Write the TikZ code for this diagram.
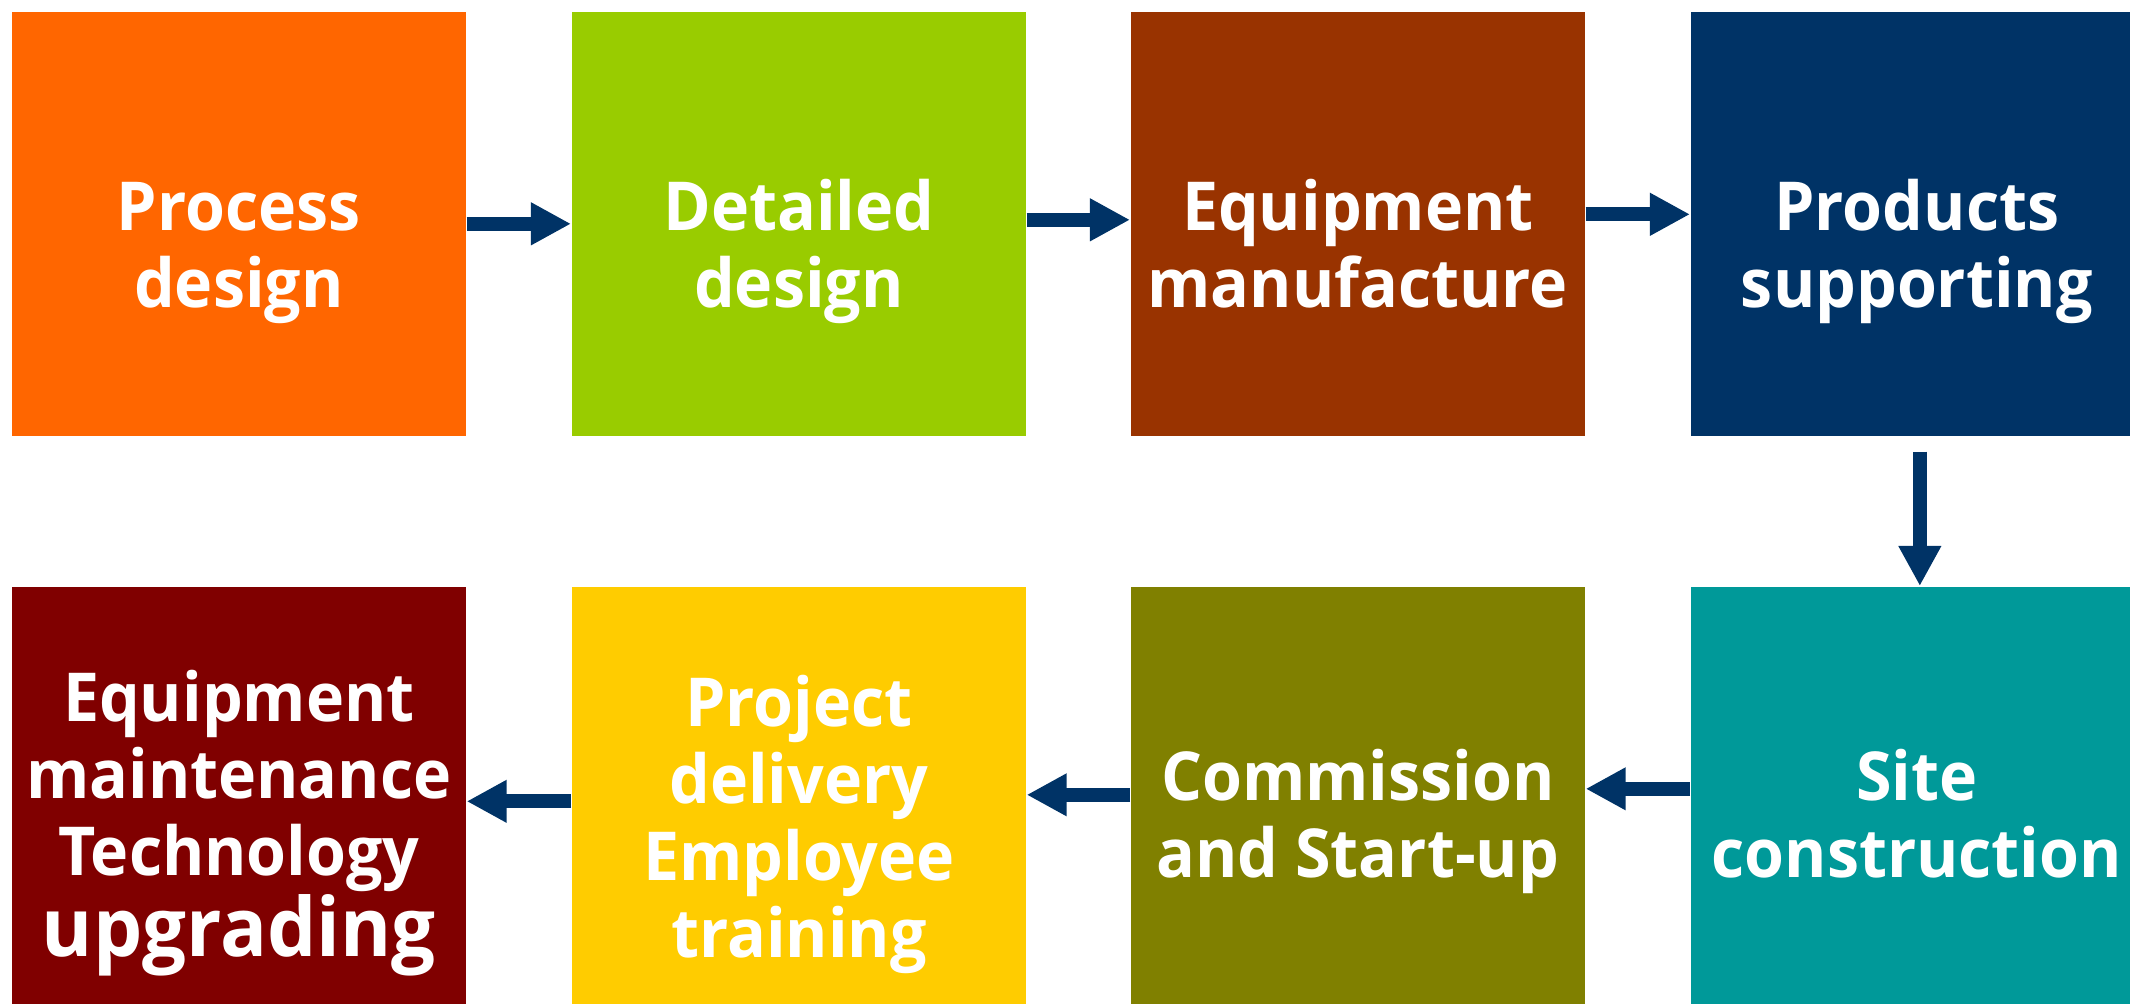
\documentclass[tikz,border=0pt]{standalone}
\usepackage{fontspec}
\setmainfont{Open Sans}[FakeStretch=0.955]
\usetikzlibrary{arrows.meta}

\definecolor{cOrange}{HTML}{FF6600}
\definecolor{cLime}{HTML}{99CC00}
\definecolor{cRust}{HTML}{993300}
\definecolor{cNavy}{HTML}{003366}
\definecolor{cTeal}{HTML}{009999}
\definecolor{cOlive}{HTML}{808000}
\definecolor{cGold}{HTML}{FFCC00}
\definecolor{cMaroon}{HTML}{800000}

\newcommand{\stagefont}{\fontsize{19.2}{21.9}\selectfont\bfseries}

\tikzset{
  stage/.style={rectangle, inner sep=0, anchor=north west,
    minimum width=4.54cm, minimum height=4.24cm},
  stagetext/.style={text=white, font=\stagefont, align=center,
    anchor=base, inner sep=0},
  flow/.style={cNavy, line width=0.14cm,
    -{Triangle[length=0.4cm, width=0.4cm]}}
}

\begin{document}
\begin{tikzpicture}[x=0.01cm, y=-0.01cm]
\useasboundingbox (0,0) rectangle (2130,1004);
% top row
\node[stage, fill=cOrange] (pd) at (11,11) {};
\node[stage, fill=cLime] (dd) at (571,11) {};
\node[stage, fill=cRust] (em) at (1130,11) {};
\node[stage, fill=cNavy, minimum width=4.4cm] (ps) at (1690,11) {};
% bottom row
\begin{scope}[every node/.append style={minimum height=4.18cm}]
\node[stage, fill=cMaroon] (mt) at (11,586) {};
\node[stage, fill=cGold] (pj) at (571,586) {};
\node[stage, fill=cOlive] (cs) at (1130,586) {};
\node[stage, fill=cTeal, minimum width=4.4cm] (sc) at (1690,586) {};
\end{scope}

% texts, placed on the baseline of their last line
\node[stagetext] (pd-t) at (pd |- 0,308) {Process\\design};
\node[stagetext] (dd-t) at (dd |- 0,308) {Detailed\\design};
\node[stagetext] (em-t) at (em |- 0,308) {Equipment\\manufacture};
\node[stagetext] (ps-t) at ([xshift=0.06cm]ps |- 0,308) {Products\\supporting};
\node[stagetext] (sc-t) at ([xshift=0.06cm]sc |- 0,878) {Site\\construction};
\node[stagetext] (cs-t) at (cs |- 0,878) {Commission\\and Start-up};
\node[stagetext] (pj-t) at (pj |- 0,958) {Project\\delivery\\Employee\\training};
\node[stagetext] (mt-t) at (mt |- 0,957)
  {Equipment\\maintenance\\Technology\\{\fontsize{23.2}{23.6}\selectfont upgrading}};

% arrows
\draw[flow] (pd.east) -- (dd.west);
\draw[flow] ([yshift=0.04cm]dd.east) -- ([yshift=0.04cm]em.west);
\draw[flow] ([yshift=0.095cm]em.east) -- ([yshift=0.095cm]ps.west);
\draw[flow] ([shift={(0.09cm,-0.15cm)}]ps.south) -- ([xshift=0.09cm]sc.north);
\draw[flow] ([yshift=0.1cm]sc.west) -- ([yshift=0.1cm]cs.east);
\draw[flow] ([yshift=0.04cm]cs.west) -- ([yshift=0.04cm]pj.east);
\draw[flow] ([yshift=-0.025cm]pj.west) -- ([yshift=-0.025cm]mt.east);
\end{tikzpicture}
\end{document}
